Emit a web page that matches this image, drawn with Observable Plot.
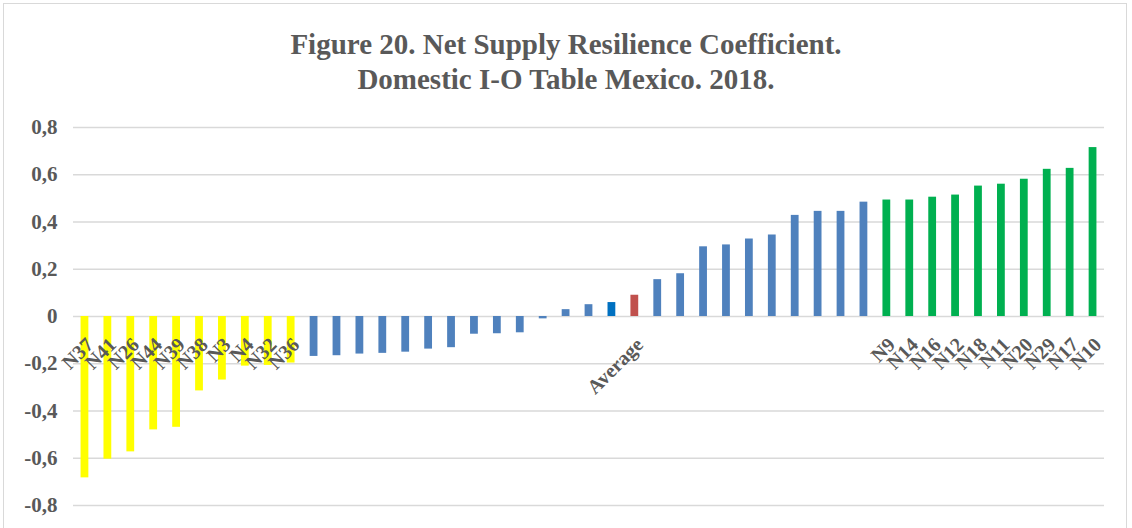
<!DOCTYPE html>
<html>
<head>
<meta charset="utf-8">
<script src="https://cdn.jsdelivr.net/npm/d3@7"></script>
<script src="https://cdn.jsdelivr.net/npm/@observablehq/plot@0.6"></script>
<style>
  html, body { margin: 0; padding: 0; background: #fff; }
  body { width: 1132px; height: 528px; position: relative; overflow: hidden; font-family: "Liberation Serif", "Times New Roman", serif; }
  #frame { position: absolute; left: 3px; top: 3px; width: 1124px; height: 540px; border: 1.5px solid #d9d9d9; box-sizing: border-box; }
  #title { position: absolute; left: 0; top: 27px; width: 1132px; text-align: center; font-weight: bold; font-size: 29px; line-height: 35px; color: #595959; }
  #chart { position: absolute; left: 0; top: 110px; }
</style>
</head>
<body>
<div id="frame"></div>
<div id="title">Figure 20. Net Supply Resilience Coefficient.<br>Domestic I-O Table Mexico. 2018.</div>
<div id="chart"></div>
<script>
// Bar labels (blank = unlabeled bar)
const labels = [
  "N37","N41","N26","N44","N39","N38","N3","N4","N32","N36",
  "","","","","","","","","","","",
  "","","","Average",
  "","","","","","","","","","",
  "N9","N14","N16","N12","N18","N11","N20","N29","N17","N10"
];
// Coefficient values
const values = [
  -0.683,-0.604,-0.573,-0.480,-0.469,-0.315,-0.269,-0.210,-0.207,-0.197,
  -0.169,-0.166,-0.159,-0.156,-0.151,-0.138,-0.132,-0.075,-0.073,-0.069,-0.010,
  0.029,0.050,0.059,0.090,
  0.156,0.181,0.295,0.303,0.328,0.345,0.428,0.445,0.445,0.484,
  0.493,0.493,0.505,0.514,0.552,0.560,0.581,0.623,0.627,0.715
];
// Group of each bar (drives colour)
const groups = [
  ...Array(10).fill("low"),
  ...Array(11).fill("mid"),
  "mid","mid","mex","avg",
  ...Array(10).fill("mid"),
  ...Array(10).fill("high")
];
const groupDomain = ["low","mid","mex","avg","high"];
const groupColors = ["#FFFF00","#4F81BD","#0070C0","#C0504D","#00B050"];
const yTicks = [-0.8,-0.6,-0.4,-0.2,0,0.2,0.4,0.6,0.8];
const yTickLabels = ["-0,8","-0,6","-0,4","-0,2","0","0,2","0,4","0,6","0,8"];

const data = values.map((v, i) => ({i, v, label: labels[i], group: groups[i]}));
const fmt = d => yTickLabels[yTicks.indexOf(Math.round(d*10)/10)];

const chart = Plot.plot({
  width: 1132,
  height: 418,
  marginLeft: 73,
  marginRight: 28,
  marginTop: 17,
  marginBottom: 23,
  style: {fontFamily: "'Liberation Serif', 'Times New Roman', serif", background: "transparent", overflow: "visible"},
  x: {type: "band", domain: data.map(d => d.i), paddingInner: 0.66, paddingOuter: 0.33, axis: null},
  y: {domain: [-0.8, 0.8], ticks: yTicks, tickFormat: fmt, label: null},
  color: {domain: groupDomain, range: groupColors},
  marks: [
    Plot.gridY(yTicks, {stroke: "#d9d9d9", strokeOpacity: 1, strokeWidth: 1.5}),
    Plot.axisY({ticks: yTicks, tickSize: 0, tickPadding: 16, fontSize: 21, fontWeight: "bold", fill: "#595959", tickFormat: fmt, label: null}),
    Plot.barY(data, {x: "i", y: "v", fill: "group"}),
    Plot.text(data.filter(d => d.label), {
      x: "i", y: () => 0, text: "label", rotate: -45, textAnchor: "end", lineAnchor: "middle",
      dx: 5, dy: 25, fontSize: 20, fontWeight: "bold", fill: "#595959"
    })
  ]
});
document.getElementById("chart").appendChild(chart);
</script>
</body>
</html>
